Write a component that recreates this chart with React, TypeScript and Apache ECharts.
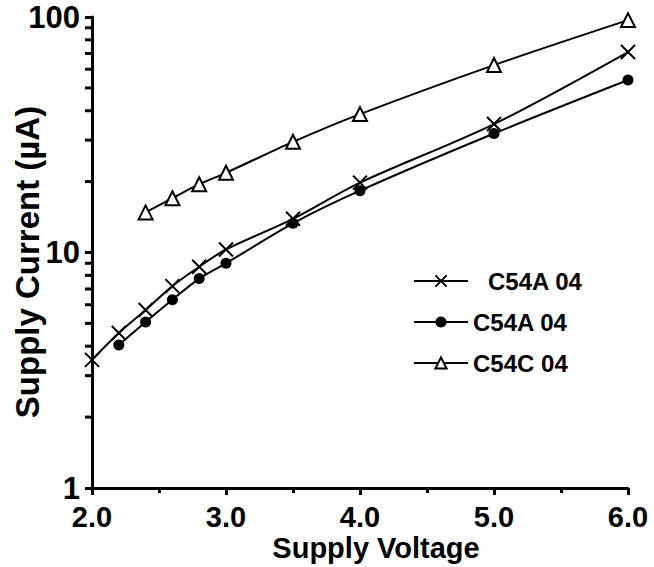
import React, { useEffect, useRef } from "react";
import * as echarts from "echarts";

const crossVoltage = [2.0, 2.2, 2.4, 2.6, 2.8, 3.0, 3.5, 4.0, 5.0, 6.0];
const crossCurrent = [3.5, 4.55, 5.7, 7.2, 8.7, 10.3, 13.9, 19.8, 35.1, 71];

const dotVoltage = [2.2, 2.4, 2.6, 2.8, 3.0, 3.5, 4.0, 5.0, 6.0];
const dotCurrent = [4.05, 5.07, 6.3, 7.75, 9.0, 13.3, 18.3, 32.0, 54];

const triVoltage = [2.4, 2.6, 2.8, 3.0, 3.5, 4.0, 5.0, 6.0];
const triCurrent = [14.8, 17.0, 19.5, 21.8, 29.5, 38.7, 62.5, 97];

const seriesNames = ["C54A 04 ", "C54A 04", "C54C 04"];
const yMinorTickValues = [2, 3, 4, 5, 6, 7, 8, 9, 20, 30, 40, 50, 60, 70, 80, 90];
const xTitle = "Supply Voltage";
const yTitle = "Supply Current (\u00b5A)";

const FONT = "'Liberation Sans', Arial, Helvetica, sans-serif";

function pairs(xs: number[], ys: number[]) {
  return xs.map((x, i) => [x, ys[i]]);
}

export default function App() {
  const ref = useRef<HTMLDivElement>(null);
  useEffect(() => {
    if (!ref.current) return;
    const chart = echarts.init(ref.current, null, { renderer: "svg" });
    const lineStyle = { color: "#000", width: 2 };
    chart.setOption({
      animation: false,
      backgroundColor: "#fff",
      grid: { left: 92, right: 26, top: 17, bottom: 79, containLabel: false, outerBoundsMode: "none" },
      graphic: [
        {
          type: "text",
          x: 376,
          y: 548,
          style: {
            text: xTitle,
            fill: "#000",
            font: "bold 29px " + FONT,
            textAlign: "center",
            textVerticalAlign: "middle",
          },
        },
        {
          type: "text",
          x: 27,
          y: 262,
          rotation: Math.PI / 2,
          style: {
            text: yTitle,
            fill: "#000",
            font: "bold 33px " + FONT,
            textAlign: "center",
            textVerticalAlign: "middle",
          },
        },
      ],
      legend: {
        orient: "vertical",
        left: 408,
        top: 264,
        itemWidth: 54,
        itemHeight: 14,
        itemGap: 17,
        data: seriesNames,
        textStyle: {
          color: "#000",
          fontSize: 24,
          fontWeight: "bold",
          fontFamily: FONT,
          rich: {
            a: { padding: [0, 0, 0, 15], fontSize: 24, fontWeight: "bold", fontFamily: FONT, color: "#000" },
          },
        },
        formatter: (name: string) => (name === seriesNames[0] ? "{a|" + name.trim() + "}" : name),
      },
      xAxis: {
        type: "value",
        min: 2,
        max: 6,
        interval: 1,
        axisLine: { show: true, lineStyle: { color: "#000", width: 3 } },
        axisTick: { show: true, length: 7, lineStyle: { color: "#000", width: 3 } },
        minorTick: { show: true, splitNumber: 2, length: 5, lineStyle: { color: "#000", width: 3 } },
        splitLine: { show: false },
        axisLabel: {
          margin: 14,
          fontSize: 29,
          fontWeight: "bold",
          fontFamily: FONT,
          color: "#000",
          formatter: (v: number) => v.toFixed(1),
        },
      },
      yAxis: {
        type: "log",
        logBase: 10,
        min: 1,
        max: 100,
        axisLine: { show: true, lineStyle: { color: "#000", width: 3 } },
        axisTick: { show: true, length: 7, lineStyle: { color: "#000", width: 3 } },
        splitLine: { show: false },
        axisLabel: {
          margin: 12,
          fontSize: 31,
          fontWeight: "bold",
          fontFamily: FONT,
          color: "#000",
        },
      },
      series: [
        {
          type: "custom",
          silent: true,
          data: yMinorTickValues.map((v) => [2, v]),
          renderItem: (_params: any, api: any) => {
            const p = api.coord([api.value(0), api.value(1)]);
            return {
              type: "line",
              shape: { x1: p[0] - 7, y1: p[1], x2: p[0], y2: p[1] },
              style: { stroke: "#000", lineWidth: 3 },
            };
          },
          clip: false,
          z: 1,
        },
        {
          name: seriesNames[0],
          type: "line",
          data: pairs(crossVoltage, crossCurrent),
          smooth: 0.3,
          symbol: "path://M0,0L10,10M10,0L0,10",
          symbolSize: 14,
          showAllSymbol: true,
          lineStyle,
          itemStyle: { color: "#000", borderColor: "#000", borderWidth: 2 },
          z: 3,
        },
        {
          name: seriesNames[1],
          type: "line",
          data: pairs(dotVoltage, dotCurrent),
          smooth: 0.3,
          symbol: "circle",
          symbolSize: 11,
          showAllSymbol: true,
          lineStyle,
          itemStyle: { color: "#000", borderColor: "#000", borderWidth: 0 },
          z: 2,
        },
        {
          name: seriesNames[2],
          type: "line",
          data: pairs(triVoltage, triCurrent),
          smooth: 0.3,
          symbol: "triangle",
          symbolSize: 14,
          showAllSymbol: true,
          lineStyle,
          itemStyle: { color: "#fff", borderColor: "#000", borderWidth: 2 },
          z: 4,
        },
      ],
    });
    return () => chart.dispose();
  }, []);
  return <div ref={ref} style={{ width: 654, height: 567, position: "absolute", left: 0, top: 0 }} />;
}
